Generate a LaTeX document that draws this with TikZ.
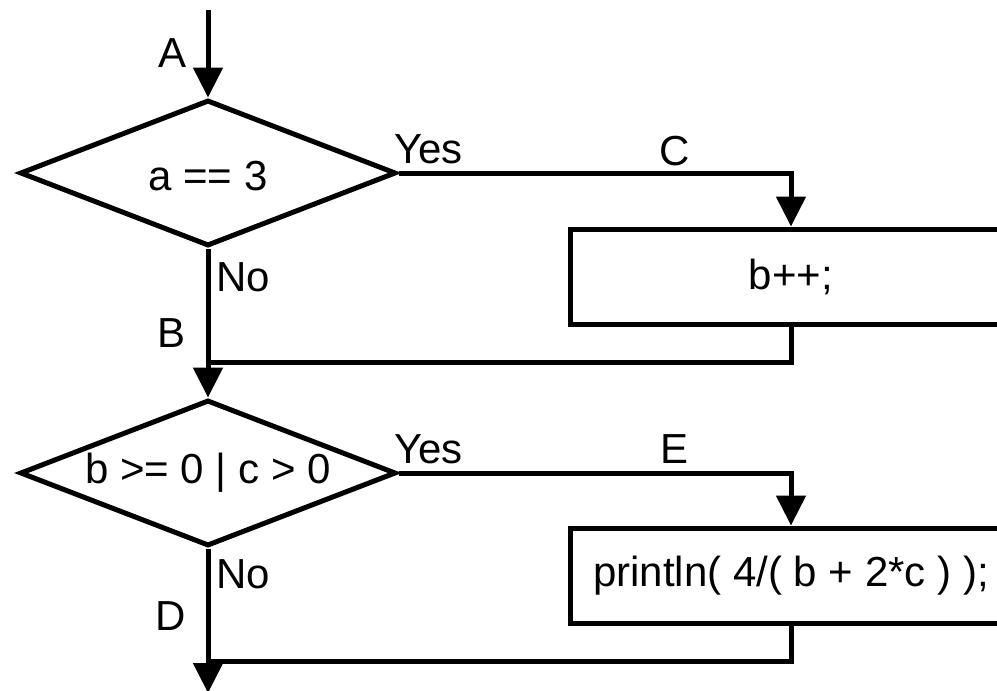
\documentclass[tikz,border=0pt]{standalone}
\usepackage{fontspec}
\setmainfont{Liberation Sans}
\usetikzlibrary{shapes.geometric,arrows.meta}
\begin{document}
\begin{tikzpicture}[x=1pt,y=-1pt,
  every node/.style={font=\fontsize{42}{50}\selectfont},
  line/.style={line width=5pt},
  arr/.style={line width=5pt,-{Triangle[length=30pt,width=29pt]}},
  decision/.style={shape=diamond,draw,line width=5pt,inner sep=0pt,minimum width=376pt,minimum height=146pt,aspect=2.575},
  action/.style={shape=rectangle,draw,line width=5pt,inner sep=0pt,minimum width=442pt,minimum height=95pt},
  lbl/.style={inner sep=0pt}]
\useasboundingbox (0,0) rectangle (997,691);
\clip (0,0) rectangle (997,691);
\fill[white] (0,0) rectangle (997,691);
% nodes
\node[decision,text height=34pt,text depth=0pt] (d1) at (208,173) {a == 3};
\node[action] (b1) at (791,276.5) {b++;};
\node[decision] (d2) at (208,473) {b >= 0 | c > 0};
\node[action] (b2) at (791,575.5) {println( 4/( b + 2*c ) );};
\coordinate (start) at (208,10);
\coordinate (j1) at (208,362);
\coordinate (j2) at (208,661);
\coordinate (finish) at (208,693);
% connectors
\draw[arr] (start) -- (d1.north);
\draw[arr] (d1.east) -| (b1.north);
\draw[line] (b1.south) |- (j1);
\draw[arr] (d1.south) -- (d2.north);
\draw[arr] (d2.east) -| (b2.north);
\draw[line] (b2.south) |- (j2);
\draw[arr] (d2.south) -- (finish);
% labels
\node[lbl,anchor=base east] (la) at (187,67) {A};
\node[lbl,anchor=base west] (ly1) at (394,163) {Yes};
\node[lbl,anchor=base] (lc) at (675,165) {C};
\node[lbl,anchor=base west] (ln1) at (216,291) {No};
\node[lbl,anchor=base east] (lb) at (186,347) {B};
\node[lbl,anchor=base west] (ly2) at (394,463) {Yes};
\node[lbl,anchor=base] (le) at (675,463) {E};
\node[lbl,anchor=base west] (ln2) at (216,588) {No};
\node[lbl,anchor=base east] (ld) at (186,630) {D};
\end{tikzpicture}
\end{document}
